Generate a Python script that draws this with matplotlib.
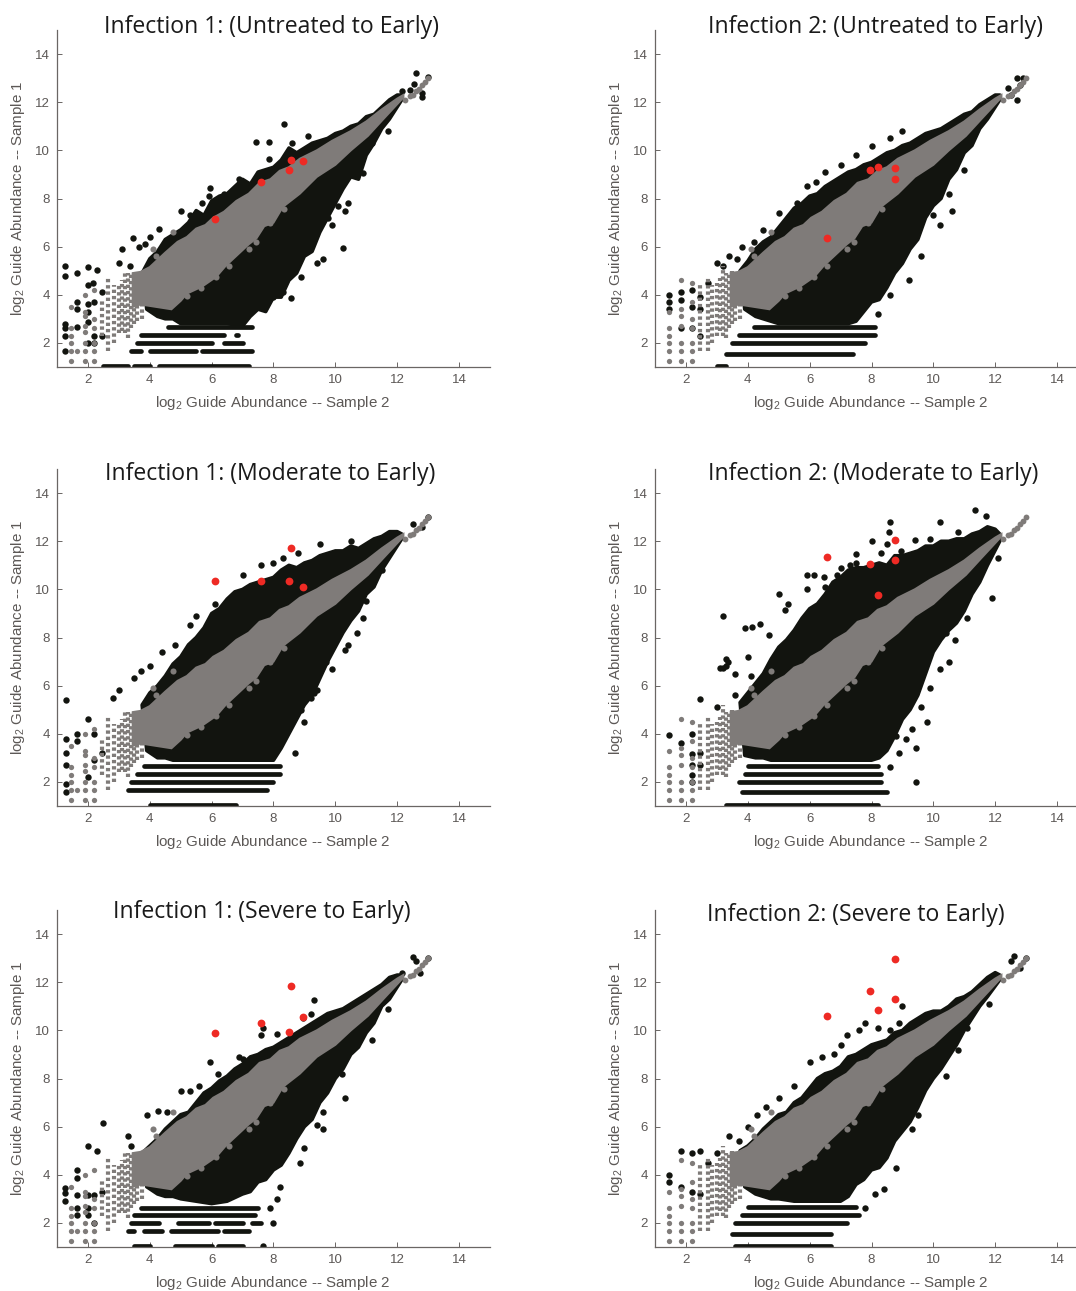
import matplotlib
matplotlib.use("Agg")
import matplotlib.pyplot as plt

W, H = 1076, 1291
BLACK = '#12140f'; GREY = '#7f7b79'; RED = '#ee2a24'; AXC = '#6a6664'; TXT = '#5c5856'

titles = ['Infection 1: (Untreated to Early)', 'Infection 2: (Untreated to Early)',
          'Infection 1: (Moderate to Early)', 'Infection 2: (Moderate to Early)',
          'Infection 1: (Severe to Early)', 'Infection 2: (Severe to Early)']
tick_vals = [2, 4, 6, 8, 10, 12, 14]

# shared grey diagonal band
grey_x = [3.45, 3.7, 4.0, 4.5, 4.9, 5.2, 5.5, 5.8, 6.05, 6.4, 6.8, 7.2, 7.55, 7.9, 8.2, 8.5, 8.85, 9.4, 9.9, 10.5, 11.0, 11.5, 12.0, 12.2]
grey_up = [4.9, 4.95, 5.15, 5.75, 6.2, 6.4, 6.75, 6.9, 7.2, 7.45, 7.9, 8.2, 8.65, 8.8, 9.15, 9.3, 9.65, 10.0, 10.4, 10.8, 11.2, 11.7, 12.15, 12.3]
grey_lo_x = [3.45, 3.7, 4.2, 4.7, 5.0, 5.2, 5.7, 6.15, 6.45, 6.7, 7.2, 7.45, 7.7, 8.0, 8.3, 8.85, 9.4, 10.0, 10.5, 11.05, 11.55, 12.2]
grey_lo = [3.5, 3.6, 3.5, 3.4, 3.75, 4.05, 4.35, 4.75, 5.2, 5.5, 6.1, 6.35, 6.85, 7.0, 7.65, 8.2, 8.9, 9.4, 10.0, 10.6, 11.3, 12.2]
grey_tail_x = [12.25, 12.4, 12.5, 12.6, 12.7, 12.8, 12.9, 13.0]
grey_tail_y = [12.1, 12.25, 12.3, 12.45, 12.55, 12.7, 12.85, 13.0]
fringe_x = [5.2, 5.65, 6.15, 6.55, 7.2, 7.45, 7.9, 8.35, 4.1, 4.2, 4.75]
fringe_y = [3.95, 4.3, 4.75, 5.2, 5.9, 6.2, 7.0, 7.55, 5.9, 5.6, 6.6]

# black cloud envelopes, one per panel
env_up_x = [3.75, 4, 4.25, 4.5, 4.75, 5, 5.25, 5.5, 5.75, 6, 6.25, 6.5, 6.75, 7, 7.25, 7.5, 7.75, 8, 8.25, 8.5, 8.75, 9, 9.25, 9.5, 9.75, 10, 10.25, 10.5, 10.75, 11, 11.25, 11.5, 11.75, 12, 12.15]
up1 = [4.9, 5.5, 5.8, 6.3, 6.5, 6.7, 7.0, 7.5, 7.3, 7.9, 8.1, 8.2, 8.5, 8.8, 8.6, 9.1, 9.2, 9.3, 9.6, 10.1, 9.9, 10.1, 10.3, 10.4, 10.5, 10.7, 10.8, 11.0, 11.1, 11.4, 11.5, 11.8, 12.1, 12.3, 12.3]
up2 = [5.0, 5.4, 5.9, 6.2, 6.4, 6.8, 7.2, 7.6, 7.8, 8.1, 8.2, 8.5, 8.7, 8.9, 9.1, 9.2, 9.4, 9.5, 9.7, 9.9, 10.0, 10.2, 10.3, 10.5, 10.7, 10.8, 10.9, 11.1, 11.3, 11.5, 11.6, 11.9, 12.1, 12.3, 12.3]
up3 = [5.2, 5.7, 6.0, 6.4, 6.9, 7.2, 7.7, 8.0, 8.4, 9.0, 9.2, 9.6, 9.9, 10.0, 10.2, 10.3, 10.4, 10.5, 10.8, 11.0, 10.9, 11.1, 11.2, 11.4, 11.5, 11.6, 11.6, 11.8, 11.7, 11.9, 12.1, 12.2, 12.4, 12.4, 12.3]
up4 = [5.3, 5.7, 6.1, 6.5, 7.1, 7.6, 7.9, 8.3, 8.8, 9.2, 9.4, 9.8, 10.3, 10.5, 10.8, 10.9, 10.9, 11.0, 11.1, 11.0, 11.4, 11.4, 11.5, 11.6, 11.8, 11.8, 12.0, 12.0, 12.1, 12.1, 12.3, 12.4, 12.6, 12.5, 12.3]
up5 = [4.9, 5.2, 5.5, 5.9, 6.2, 6.5, 6.6, 7.0, 7.4, 7.6, 7.9, 8.1, 8.4, 8.6, 8.9, 9.0, 9.2, 9.3, 9.5, 9.7, 9.9, 10.1, 10.3, 10.5, 10.7, 10.8, 10.9, 11.1, 11.3, 11.5, 11.7, 11.9, 12.2, 12.3, 12.3]
up6 = [5.0, 5.2, 5.5, 5.9, 6.2, 6.5, 6.6, 7.0, 7.2, 7.6, 8.0, 8.2, 8.3, 8.5, 8.9, 9.0, 9.2, 9.4, 9.5, 9.6, 9.9, 10.0, 10.3, 10.5, 10.7, 10.8, 10.8, 11.0, 11.3, 11.4, 11.6, 11.9, 12.2, 12.4, 12.3]

env_lo_x = [3.9, 4.25, 4.5, 4.75, 5, 5.5, 6, 6.5, 7, 7.25, 7.5, 7.75, 8, 8.25, 8.5, 8.75, 9, 9.25, 9.5, 9.75, 10, 10.25, 10.5, 10.75, 11, 11.25, 11.5, 11.75, 12.15]
lo1 = [3.4, 3.1, 3.0, 3.0, 2.8, 2.8, 2.8, 2.8, 2.7, 3.1, 3.4, 3.3, 3.9, 3.9, 4.6, 4.9, 5.6, 5.8, 6.6, 7.2, 7.8, 8.4, 8.9, 8.8, 9.8, 10.3, 10.9, 11.3, 12.1]
lo2 = [3.4, 3.1, 3.0, 2.9, 2.8, 2.8, 2.8, 2.8, 2.8, 2.8, 2.9, 3.3, 3.7, 3.8, 4.3, 4.9, 5.3, 5.9, 6.3, 7.2, 7.7, 8.0, 8.8, 9.2, 9.9, 10.2, 10.9, 11.3, 12.1]
lo3 = [3.3, 3.0, 3.0, 2.9, 2.9, 2.9, 2.9, 2.9, 2.9, 2.9, 2.9, 2.9, 2.9, 3.4, 4.0, 4.6, 5.2, 5.6, 6.3, 7.0, 7.6, 8.2, 8.7, 9.1, 9.8, 10.1, 10.8, 11.3, 12.1]
lo4 = [3.1, 3.0, 3.0, 2.9, 2.9, 2.9, 2.9, 2.9, 2.9, 2.9, 2.9, 2.9, 2.9, 3.0, 3.3, 3.9, 4.6, 5.0, 5.6, 6.5, 7.4, 7.9, 8.3, 8.6, 9.1, 9.8, 10.3, 11.0, 12.0]
lo5 = [3.5, 3.2, 3.1, 3.1, 3.0, 2.9, 2.8, 2.9, 3.2, 3.3, 3.7, 3.8, 4.2, 4.4, 4.9, 5.5, 6.0, 6.3, 7.0, 7.4, 8.0, 8.4, 9.0, 9.3, 9.9, 10.3, 11.0, 11.3, 12.1]
lo6 = [3.5, 3.2, 3.1, 3.0, 3.0, 2.9, 2.9, 2.9, 2.9, 3.1, 3.6, 3.8, 4.2, 4.3, 4.7, 5.4, 5.8, 6.2, 6.8, 7.5, 8.0, 8.4, 8.9, 9.4, 10.0, 10.5, 11.0, 11.4, 12.1]

# horizontal rows of discrete low counts: y, then (start, end) runs
rows1 = [(1.05, [(2.5, 3.3), (3.5, 4.0), (4.3, 7.2)]), (1.65, [(3.4, 3.7), (4.0, 5.5), (5.7, 7.3)]),
         (2.0, [(3.6, 6.0), (6.4, 7.0)]), (2.35, [(3.7, 6.4), (6.8, 6.85)]), (2.65, [(4.6, 7.3)])]
rows2 = [(1.05, [(3.0, 3.3)]), (1.55, [(3.3, 7.4)]), (2.0, [(3.5, 7.8)]), (2.35, [(3.7, 8.1)]), (2.65, [(4.2, 8.1)])]
rows3 = [(1.05, [(4.0, 6.8)]), (1.65, [(3.3, 7.8)]), (2.0, [(3.4, 8.0)]), (2.35, [(3.6, 8.2)]), (2.65, [(3.8, 8.2)])]
rows4 = [(1.05, [(3.3, 8.2)]), (1.6, [(3.8, 8.5)]), (2.0, [(3.7, 8.3)]), (2.35, [(3.9, 8.3)]), (2.65, [(4.0, 8.2)])]
rows5 = [(1.05, [(3.5, 4.0), (4.8, 6.0), (6.2, 7.0)]), (1.65, [(3.3, 3.5), (3.8, 4.4), (4.7, 6.2), (6.4, 7.2)]),
         (2.0, [(3.4, 4.3), (4.9, 5.9), (6.1, 7.0), (7.3, 7.6)]), (2.35, [(3.5, 7.4)]), (2.6, [(3.7, 7.5)])]
rows6 = [(1.05, [(3.6, 6.7)]), (1.55, [(3.5, 6.7)]), (2.0, [(3.6, 7.2)]), (2.35, [(3.8, 7.6)]), (2.65, [(4.0, 7.5)])]

# grey low-count grid columns, infection 1 then infection 2
grid1_x = [1.45, 1.45, 1.45, 1.45, 1.45, 1.45, 1.65, 1.9, 1.9, 1.9, 1.9, 1.9, 1.9, 1.9, 1.9, 2.2, 2.2, 2.2, 2.2, 2.2, 2.2]
grid1_y = [1.25, 1.65, 2.0, 2.3, 2.6, 3.5, 1.65, 1.25, 1.65, 2.0, 2.45, 2.7, 3.1, 3.3, 4.0, 1.25, 1.65, 2.0, 2.6, 3.0, 4.2]
grid2_x = [1.45, 1.45, 1.45, 1.45, 1.45, 1.45, 1.85, 1.85, 1.85, 1.85, 1.85, 1.85, 1.85, 2.2, 2.2, 2.2, 2.2, 2.2, 2.2, 2.2]
grid2_y = [1.25, 1.65, 2.0, 2.3, 2.6, 3.3, 1.25, 1.65, 2.0, 2.7, 3.1, 3.4, 4.6, 1.25, 1.65, 2.0, 2.6, 3.0, 3.7, 4.5]
stem1_x = [2.45, 2.65, 2.85, 3.0, 3.1, 3.2, 3.3, 3.4, 3.5, 3.6, 3.75]
stem1_lo = [2.3, 1.65, 2.0, 2.4, 2.5, 2.4, 2.2, 2.6, 2.8, 2.9, 3.0]
stem1_hi = [3.8, 4.7, 4.4, 4.5, 4.6, 5.0, 4.9, 4.9, 4.9, 4.9, 5.0]
stem2_x = [2.45, 2.7, 2.85, 3.0, 3.1, 3.2, 3.3, 3.4, 3.5, 3.6, 3.75]
stem2_lo = [1.65, 1.65, 2.0, 2.3, 2.5, 2.3, 2.2, 2.6, 2.8, 2.9, 3.0]
stem2_hi = [4.5, 4.7, 4.4, 4.5, 4.7, 5.2, 4.9, 4.9, 5.0, 5.0, 5.0]

# isolated black points
out1_x = [1.25, 1.25, 1.65, 2, 2, 2.3, 2.15, 1.25, 1.25, 1.25, 1.25, 1.65, 1.65, 1.65, 2, 2, 2, 2.2, 2.2, 2, 2.2, 2.45, 2.45, 3, 3.1, 3.35, 3.45, 3.65, 3.85, 4.0, 4.3, 4.3, 5, 5.3, 5.7, 5.95, 5.9, 6.4, 6.9, 7.45, 7.85, 7.85, 8.35, 8.6, 9.1, 10.25, 8.9, 8.55, 8, 8.3, 9.4, 9.6, 9.9, 10.3, 10.4, 10.9, 11.2, 11.7, 12.6, 13, 12.55, 12.8, 12.8, 12.4, 12.15, 8.6, 9.2, 9.3, 9.75, 10.1]
out1_y = [5.2, 4.8, 4.9, 5.15, 4.4, 5.05, 4.5, 2.8, 2.6, 2.3, 1.65, 3.7, 3.4, 2.65, 3.6, 3.3, 2.85, 3.7, 2.3, 2, 2, 2.3, 4.1, 5.3, 5.9, 5.2, 6.35, 6, 6.1, 6.4, 6.75, 5.8, 7.5, 7.3, 7.8, 8.45, 8.1, 8.2, 8.8, 10.35, 10.35, 9.65, 11.1, 10.3, 10.6, 5.95, 4.75, 3.85, 3.9, 4.1, 5.3, 5.5, 6.9, 7.5, 7.8, 9.05, 10.3, 10.8, 13.2, 13.05, 12.75, 12.4, 12.2, 12.5, 12.45, 5.5, 6.2, 6.5, 7.2, 7.7]
out2_x = [1.45, 1.45, 1.45, 1.85, 1.85, 2.2, 2.2, 2.45, 2.45, 1.85, 2.2, 2.45, 2.7, 3.0, 3.2, 3.4, 3.65, 3.8, 4.2, 4.5, 5, 5.3, 5.6, 5.9, 6.2, 6.5, 7, 7.5, 8, 8.6, 9, 10.5, 10.2, 9.6, 9.2, 8.6, 8.2, 10, 10.6, 11, 12.4, 12.7, 12.9, 12.8, 12.5, 12.7]
out2_y = [4, 3.7, 3.4, 4.1, 3.8, 4.2, 3.5, 3.4, 3.9, 2.6, 2.6, 2.3, 4.5, 5.3, 5.2, 5.6, 5.5, 6, 6.2, 6.7, 7.4, 7.2, 7.8, 8.5, 8.7, 9.1, 9.4, 9.8, 10.2, 10.5, 10.8, 8.2, 6.9, 5.6, 4.6, 4, 3.2, 7.3, 7.5, 9.2, 12.6, 13, 13, 12.7, 12.3, 12.1]
out3_x = [1.3, 1.3, 1.3, 1.3, 1.3, 1.3, 1.65, 1.65, 2, 2.2, 2.2, 2, 2.45, 2.8, 3, 3.5, 3.7, 4, 4.4, 4.8, 5.3, 5.5, 6.1, 7.0, 7.6, 8, 8.3, 8.8, 9.5, 10.5, 11, 11.5, 12.5, 13, 12.8, 9.3, 9.4, 9.7, 10.3, 10.9, 8.7, 9, 9.4, 8.9, 9.2, 9.9, 10.4, 10.7]
out3_y = [5.4, 3.8, 3.2, 2.7, 1.9, 1.6, 4, 3.7, 4.6, 4, 2.9, 2.2, 3.2, 5.5, 5.8, 6.3, 6.6, 6.8, 7.4, 7.7, 8.5, 8.9, 9.4, 10.6, 11, 11.1, 11.3, 11.5, 11.9, 12, 9.5, 10.8, 12.7, 13, 12.6, 5.7, 6.7, 7, 7.5, 8.8, 3.2, 4.5, 5.8, 5.0, 5.5, 6.7, 7.7, 8.2]
out4_x = [1.45, 1.85, 2.2, 2.2, 2.2, 2.2, 2.2, 2.45, 2.45, 2.45, 3.0, 3.1, 3.2, 3.3, 3.35, 3.3, 3.6, 3.6, 3.9, 4, 4.1, 3.2, 3.9, 4.15, 4.4, 4.7, 4.8, 5.0, 5.3, 5.2, 5.9, 6.9, 5.9, 6.15, 6.45, 7.5, 7.5, 8, 8.3, 8.5, 8.55, 8.95, 8.6, 9.4, 9.9, 10.2, 10.8, 11.35, 11.7, 11.9, 12.1, 10.4, 10.5, 9.8, 9.45, 9.45, 9.9, 8.6, 9.1, 9.3, 9.6, 10.2, 10.7, 11.1, 6.5, 7.0, 7.3, 8.9, 8.8]
out4_y = [3.95, 3.6, 4, 3.15, 2.7, 2.3, 2, 5.45, 3.2, 2.7, 5.1, 6.75, 6.75, 6.8, 7, 7.1, 6.5, 5.6, 5.4, 7.2, 6.4, 8.9, 8.4, 8.45, 8.55, 8.1, 6.5, 9.8, 9.4, 9.15, 10, 10.6, 10.6, 10.6, 10.5, 11.1, 11.45, 12, 11.5, 11.9, 12.4, 11.6, 12.8, 12.05, 12.1, 12.8, 12.4, 13.3, 13.05, 9.65, 11.3, 8.2, 7, 4.5, 2, 3.4, 5.9, 2.6, 3.8, 4.2, 5.1, 6.7, 7.9, 8.8, 10.1, 10.9, 11.0, 3.2, 3.9]
out5_x = [2.5, 2, 2.3, 1.65, 1.65, 1.25, 1.25, 1.25, 1.65, 2, 2.2, 1.65, 1.65, 2, 2, 2.2, 2.45, 3.4, 3.3, 3.9, 4.25, 4.55, 5, 5.3, 5.6, 5.95, 6.2, 6.9, 7, 7.6, 7.65, 8.1, 8.95, 9.2, 9.3, 9.6, 9.4, 9.6, 8.85, 9, 8.2, 8.1, 7.9, 8, 7.65, 10.2, 10.3, 11.2, 11.7, 12.5, 12.6, 13, 12.75, 12.15]
out5_y = [6.15, 5.2, 5, 4.2, 3.85, 3.45, 3.25, 2.9, 3.15, 3.15, 3.15, 2.6, 2.35, 2.35, 2.6, 2, 3.3, 5.2, 5.6, 6.5, 6.65, 6.6, 7.5, 7.5, 7.7, 8.7, 8.2, 8.9, 8.8, 9.8, 10.1, 9.85, 10.5, 10.7, 11.25, 5.9, 6.05, 6.6, 4.5, 5.1, 3.5, 3.0, 2.6, 2, 1.05, 8.2, 7.2, 9.6, 10.9, 13.05, 12.9, 13, 12.4, 12.4]
out6_x = [1.85, 2.2, 2.45, 2.7, 1.45, 1.45, 1.85, 2.2, 2.45, 3, 3.4, 3.7, 4, 4.3, 4.6, 5, 5.5, 6, 6.4, 6.8, 7, 7.2, 7.6, 7.8, 8.2, 8.6, 8.9, 9, 9.2, 9.5, 9.3, 8.8, 8.4, 8.1, 7.8, 10.4, 10.8, 11.1, 11.8, 12.5, 12.6, 13, 12.8]
out6_y = [5, 4.9, 5, 4.5, 4, 3.7, 3.5, 3.3, 3.2, 4.9, 5.6, 5.4, 6, 6.5, 6.8, 7.2, 7.7, 8.7, 8.9, 9, 9.4, 9.8, 10, 10.3, 10.1, 10, 10.3, 11, 9, 6.5, 5.9, 4.3, 3.4, 3.2, 2.6, 8.1, 9.2, 10.1, 11.1, 12.9, 13.1, 13, 12.6]

# highlighted red guides
red1_x = [6.1, 7.6, 8.5, 8.55, 8.95]; red1_y = [7.15, 8.7, 9.2, 9.6, 9.55]
red2_x = [6.55, 7.95, 8.2, 8.75, 8.75]; red2_y = [6.35, 9.2, 9.3, 8.8, 9.25]
red3_x = [6.1, 7.6, 8.5, 8.55, 8.95]; red3_y = [10.35, 10.35, 10.35, 11.7, 10.1]
red4_x = [6.55, 7.95, 8.2, 8.75, 8.75]; red4_y = [11.35, 11.05, 9.75, 12.05, 11.2]
red5_x = [6.1, 7.6, 8.5, 8.55, 8.95]; red5_y = [9.9, 10.3, 9.95, 11.85, 10.55]
red6_x = [6.55, 7.95, 8.2, 8.75, 8.75]; red6_y = [10.6, 11.65, 10.85, 12.95, 11.3]

plt.rcParams['font.family'] = ['Liberation Sans']
plt.rcParams['mathtext.default'] = 'regular'
fig = plt.figure(figsize=(W / 100, H / 100), dpi=100)

panels = [
    (57, 30, up1, lo1, rows1, out1_x, out1_y, red1_x, red1_y, grid1_x, grid1_y, stem1_x, stem1_lo, stem1_hi, 272, 27),
    (655, 30, up2, lo2, rows2, out2_x, out2_y, red2_x, red2_y, grid2_x, grid2_y, stem2_x, stem2_lo, stem2_hi, 875, 27),
    (57, 469, up3, lo3, rows3, out3_x, out3_y, red3_x, red3_y, grid1_x, grid1_y, stem1_x, stem1_lo, stem1_hi, 270, 474),
    (655, 469, up4, lo4, rows4, out4_x, out4_y, red4_x, red4_y, grid2_x, grid2_y, stem2_x, stem2_lo, stem2_hi, 873, 474),
    (57, 910, up5, lo5, rows5, out5_x, out5_y, red5_x, red5_y, grid1_x, grid1_y, stem1_x, stem1_lo, stem1_hi, 262, 912),
    (655, 910, up6, lo6, rows6, out6_x, out6_y, red6_x, red6_y, grid2_x, grid2_y, stem2_x, stem2_lo, stem2_hi, 856, 915),
]

def px(x, y):
    return x / W, 1 - y / H

for i, p in enumerate(panels):
    left, top, up, ly, rows, ox, oy, rx, ry, gx, gy, sx, slo, shi, tx, ty = p
    ax = fig.add_axes([left / W, 1 - (top + 337) / H, 433 / W, 337 / H])
    ax.set_xlim(1, 15); ax.set_ylim(1, 15)
    for s in ('top', 'right'):
        ax.spines[s].set_visible(False)
    for s in ('left', 'bottom'):
        ax.spines[s].set_color(AXC); ax.spines[s].set_linewidth(0.9)
    ax.set_xticks(tick_vals); ax.set_yticks(tick_vals)
    ax.tick_params(direction='in', length=3.5, width=0.7, color=AXC, labelcolor=TXT, labelsize=9.5, pad=5)

    # black cloud
    poly_x = list(env_up_x) + list(env_lo_x)[::-1]
    poly_y = list(up) + list(ly)[::-1]
    ax.fill(poly_x, poly_y, color=BLACK, lw=2.5, joinstyle='round', zorder=2)
    for y, runs in rows:
        for a, b in runs:
            ax.plot([a, b], [y, y], color=BLACK, lw=3.4, solid_capstyle='round', zorder=2)
    ax.plot(ox, oy, 'o', ms=4.6, color=BLACK, mew=0, zorder=2)

    # grey points
    ax.vlines(sx, slo, shi, color=GREY, lw=3.0, zorder=3, linestyles=(0, (0.8, 0.7)))
    ax.plot(gx, gy, 'o', ms=3.8, color=GREY, mew=0, zorder=3)
    poly_x = list(grey_x) + list(grey_lo_x)[::-1]
    poly_y = list(grey_up) + list(grey_lo)[::-1]
    ax.fill(poly_x, poly_y, color=GREY, lw=1.5, zorder=4)
    ax.plot(grey_tail_x, grey_tail_y, 'o', ms=4.2, color=GREY, mew=0, zorder=4)
    ax.plot(fringe_x, fringe_y, 'o', ms=4.4, color=GREY, mew=0, zorder=4)

    ax.plot(rx, ry, 'o', ms=5.6, color=RED, mew=0, zorder=6)

    col_left = left == 57
    row_bottom = top + 337
    lx_px = 273 if col_left else 871
    fig.text(*px(lx_px, row_bottom + 36), 'log$_{2}$ Guide Abundance -- Sample 2', ha='center', va='center',
             fontsize=10.9, color=TXT)
    fig.text(*px(18 if col_left else 616, top + 168), 'log$_{2}$ Guide Abundance -- Sample 1', rotation=90,
             ha='center', va='center', fontsize=10.9, color=TXT)
    fig.text(*px(tx, ty), titles[i], ha='center', va='center', fontsize=16.6, color='#1a1a1a', family='Open Sans')

fig.savefig('out.png', dpi=100, facecolor='white')
